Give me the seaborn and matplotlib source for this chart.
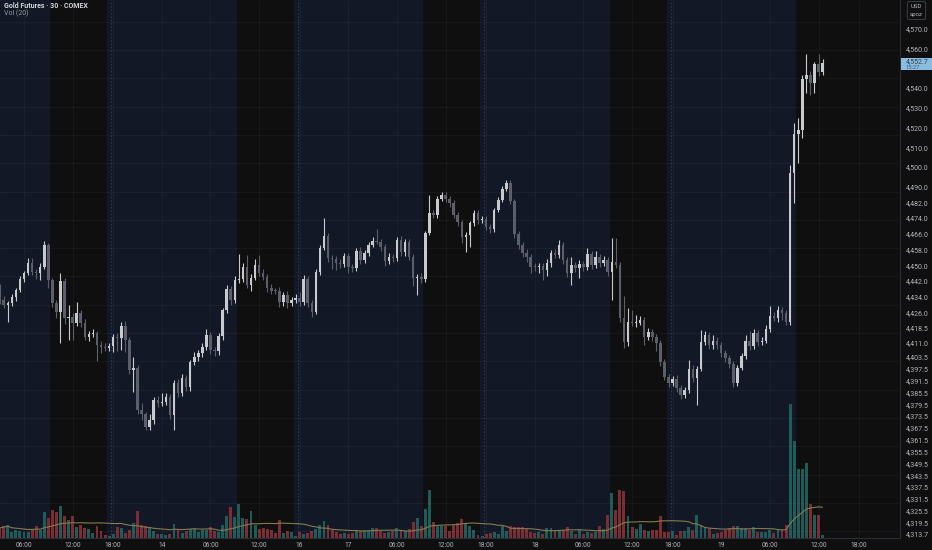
import numpy as np
import pandas as pd
import seaborn as sns
import matplotlib.pyplot as plt
import matplotlib.transforms as mtransforms
from matplotlib.patches import Rectangle


# 30 min closes (USD/oz), open of each bar = previous close
first_open = 4439.0
close = [
    4432.4, 4429.9, 4430.9, 4433.9, 4437.5, 4443.1, 4446.1, 4451.2, 4446.6, 4446.1,
    4449.2, 4460.3, 4442.6, 4430.9, 4426.3, 4442.0, 4423.3, 4423.8, 4420.7, 4425.8,
    4420.7, 4413.6, 4415.1, 4415.6, 4409.6, 4408.5, 4408.3, 4409.0, 4413.6, 4413.1,
    4419.2, 4412.1, 4396.9, 4397.9, 4376.6, 4374.5, 4367.9, 4371.5, 4381.6, 4380.1,
    4380.6, 4383.2, 4374.0, 4390.3, 4385.2, 4392.8, 4388.2, 4400.9, 4403.5, 4405.5,
    4408.5, 4414.6, 4407.0, 4406.5, 4414.1, 4427.3, 4438.0, 4432.4, 4442.6, 4443.1,
    4449.2, 4440.0, 4443.6, 4450.2, 4446.1, 4444.1, 4438.5, 4437.0, 4436.8, 4431.4,
    4435.0, 4430.9, 4432.4, 4433.4, 4431.4, 4443.1, 4430.9, 4426.3, 4446.6, 4458.8,
    4464.9, 4453.7, 4453.2, 4451.2, 4450.7, 4454.7, 4449.2, 4448.6, 4457.3, 4452.7,
    4456.3, 4460.3, 4462.4, 4462.1, 4459.3, 4452.2, 4454.2, 4453.7, 4462.9, 4456.8,
    4461.8, 4454.2, 4443.6, 4443.9, 4443.3, 4466.5, 4476.6, 4475.6, 4483.7, 4485.7,
    4483.7, 4481.7, 4475.6, 4472.1, 4464.4, 4465.4, 4471.6, 4476.6, 4473.1, 4473.6,
    4469.6, 4468.5, 4478.2, 4483.2, 4488.8, 4491.8, 4482.7, 4466.0, 4460.3, 4456.3,
    4454.2, 4449.2, 4449.0, 4449.7, 4447.7, 4451.2, 4456.3, 4455.3, 4460.3, 4452.7,
    4446.1, 4450.2, 4448.6, 4450.7, 4449.2, 4455.8, 4450.2, 4454.2, 4451.2, 4452.7,
    4446.6, 4451.7, 4450.2, 4423.3, 4411.1, 4421.3, 4420.7, 4421.0, 4422.3, 4413.6,
    4416.2, 4413.6, 4410.6, 4400.9, 4393.3, 4390.3, 4392.3, 4387.7, 4384.2, 4386.7,
    4397.4, 4392.8, 4397.6, 4411.1, 4414.6, 4409.6, 4411.6, 4409.6, 4405.5, 4403.0,
    4399.9, 4390.3, 4397.9, 4404.0, 4411.6, 4409.0, 4415.6, 4411.1, 4411.6, 4417.7,
    4424.3, 4423.3, 4427.3, 4425.8, 4421.3, 4496.9, 4516.7, 4518.7, 4544.6, 4546.6,
    4542.6, 4552.2, 4548.2, 4552.7,
]

# wick lengths above / below the body (points)
up_wick = [
    1.5, 2, 1, 1.5, 1, 1.5, 1, 2.5, 2.5, 1.5,
    2, 2, 1, 1, 1.5, 4, 1.5, 6, 2, 5.5,
    1.5, 2, 1.5, 2, 1, 2, 2, 1.5, 1.5, 2,
    2, 2.5, 1.5, 5.5, 1.5, 3.5, 1, 3, 1.5, 2,
    4.5, 2, 1.5, 1.5, 2, 2, 1.5, 1, 2.5, 1.5,
    2, 3, 1.5, 1.5, 1.5, 1, 2, 1.5, 2, 12.5,
    2, 6, 2, 3, 5, 2, 1.5, 2, 1.5, 2,
    1.5, 2, 1.5, 2, 3, 2, 1.5, 1.5, 1.5, 1.5,
    9, 1.5, 1.5, 1.5, 2, 1.5, 1.5, 1.5, 1.5, 2,
    1.5, 1.5, 2, 6, 1.5, 1.5, 2, 1.5, 1.5, 2,
    1.5, 1.5, 1.5, 1.5, 2, 1, 9, 1.5, 1.5, 1.5,
    1.5, 1.5, 1.5, 1.5, 1, 1.5, 1, 1.5, 1.5, 1.5,
    1.5, 1.5, 1, 1.5, 1.5, 1.5, 1.5, 1, 1.5, 1.5,
    2, 1.5, 2, 1.5, 1.5, 2, 1.5, 2, 2.5, 1.5,
    1.5, 4, 1.5, 2, 1.5, 3, 1.5, 3, 1.5, 2,
    1.5, 12, 12, 1.5, 11, 7, 6, 4, 2, 1.5,
    2, 1.5, 1.5, 1.5, 1.5, 1.5, 1.5, 2, 1.5, 1.5,
    4.5, 2, 1.5, 6, 2, 1.5, 3, 2, 1.5, 1.5,
    1.5, 1.5, 1.5, 1.5, 3, 5, 2, 1.5, 2, 2,
    5, 2, 2, 1.5, 1.5, 4, 5.5, 6, 2, 10.5,
    2, 1, 5, 2,
]
dn_wick = [
    2, 1.5, 8.5, 1.5, 2, 1, 1.5, 1, 1.5, 3,
    3.5, 1, 4, 2, 3, 15.5, 3, 11, 8.5, 1.5,
    2, 1.5, 2, 1.5, 8, 3, 2, 2, 3, 6.5,
    6, 6, 2, 11, 2, 3, 1.5, 1.5, 2, 2,
    1.5, 1.5, 2, 7.5, 2, 1.5, 2, 2, 1.5, 2,
    2, 1.5, 2, 2.5, 2, 2, 1.5, 2.5, 1.5, 1.5,
    1.5, 1.5, 3, 1, 1.5, 1.5, 2, 1.5, 1.5, 2.5,
    2, 2.5, 1.5, 1.5, 2, 1.5, 2, 2.5, 1, 1.5,
    1, 2, 5, 3.5, 2, 1.5, 3, 2, 1.5, 2,
    1.5, 1.5, 1, 1.5, 2, 2.5, 1.5, 2, 1.5, 2,
    2, 1.5, 4, 8.5, 2, 1.5, 1, 1.5, 1.5, 1,
    1.5, 2, 1.5, 2, 3, 7.5, 6, 1.5, 2, 1.5,
    1.5, 2, 1.5, 1, 1, 1, 1.5, 2, 2, 2,
    2.5, 3, 2, 3, 5, 3, 2, 1.5, 1.5, 2,
    2, 6, 2, 5, 2, 1.5, 2, 1.5, 2, 1.5,
    2, 14, 1.5, 2, 3, 2, 1.5, 2, 1.5, 4,
    1.5, 2, 4, 2, 1.5, 2, 1.5, 2, 2, 1.5,
    1.5, 2, 13.5, 1, 1.5, 2, 2, 2, 2, 2,
    2, 2, 1.5, 1, 1.5, 2, 1.5, 2, 1.5, 1,
    1.5, 1.5, 2, 3.5, 1.5, 1.5, 15, 14.5, 4, 7,
    6, 5, 2, 1.5,
]

# volume, hundreds of contracts
volume = [
    10, 12, 13, 6, 8, 7, 6, 6, 9, 12,
    8, 26, 20, 28, 26, 32, 22, 18, 22, 11,
    13, 10, 9, 5, 12, 7, 3, 2, 4, 11,
    10, 5, 8, 15, 27, 13, 12, 10, 7, 4,
    4, 3, 4, 14, 8, 5, 7, 9, 9, 6,
    8, 8, 11, 7, 6, 13, 22, 31, 21, 34,
    20, 19, 27, 13, 9, 10, 9, 8, 5, 18,
    5, 7, 6, 2, 6, 4, 5, 7, 9, 13,
    17, 13, 8, 6, 4, 5, 4, 5, 7, 7,
    7, 7, 10, 10, 7, 5, 6, 7, 10, 7,
    7, 9, 16, 20, 12, 29, 48, 16, 12, 12,
    12, 7, 13, 15, 19, 15, 12, 8, 3, 2,
    4, 5, 6, 4, 12, 7, 12, 11, 11, 11,
    9, 6, 5, 6, 4, 10, 10, 8, 7, 8,
    11, 7, 4, 8, 4, 6, 5, 6, 12, 9,
    23, 45, 28, 48, 47, 22, 11, 9, 14, 8,
    7, 8, 8, 22, 6, 6, 7, 3, 7, 7,
    11, 8, 23, 13, 11, 9, 4, 5, 6, 8,
    10, 12, 12, 10, 10, 8, 11, 6, 6, 6,
    8, 5, 8, 8, 13, 134, 97, 69, 69, 75,
    34, 23, 23, 3,
]

price_ticks = [4570.0, 4560.0, 4540.0, 4530.0, 4520.0, 4510.0, 4500.0, 4490.0,
               4482.0, 4474.0, 4466.0, 4458.0, 4450.0, 4442.0, 4434.0, 4426.0,
               4418.5, 4411.0, 4403.5, 4397.5, 4391.5, 4385.5, 4379.5, 4373.5,
               4367.5, 4361.5, 4355.5, 4349.5, 4343.5, 4337.5, 4331.5, 4325.5,
               4319.5, 4313.7]
time_pos = [6, 18, 28, 40, 52, 64, 74, 86, 98, 110, 120, 132, 144, 156, 166, 178, 190, 202, 212]
time_labels = ['06:00', '12:00', '18:00', '14', '06:00', '12:00', '16', '17', '06:00',
               '12:00', '18:00', '18', '06:00', '12:00', '18:00', '19', '06:00', '12:00', '18:00']
rth_start = [12.5, 58.5, 104.5, 150.5, 196.5]
rth_end = [26.5, 72.5, 118.5, 164.5, 240]
session_breaks = [27.5, 73.5, 119.5, 165.5]

df = pd.DataFrame({'close': close, 'up': up_wick, 'dn': dn_wick, 'vol': volume})
df['open'] = [first_open] + close[:-1]
df['top'] = df[['open', 'close']].max(axis=1)
df['bot'] = df[['open', 'close']].min(axis=1)
df['high'] = df['top'] + df['up']
df['low'] = df['bot'] - df['dn']
df['rising'] = df['close'] >= df['open']
df['ma'] = df['vol'].rolling(20, min_periods=1).mean()
df['bar'] = np.arange(len(df))

sns.set_theme(style='dark')
plt.rcParams['font.family'] = ['Roboto', 'DejaVu Sans']

BLUE = '#121826'
BLACK = '#0f0f0f'
TXT = '#b2b5be'

fig = plt.figure(figsize=(9.32, 5.5), dpi=100, facecolor=BLACK)
axv = fig.add_axes([0, 12 / 550, 900 / 932, 538 / 550])
axv.set_facecolor(BLUE)
ax = axv.twinx()

# session shading
for a, b in zip(rth_start, rth_end):
    axv.axvspan(a, b, color=BLACK, lw=0, zorder=0.6)
for s in session_breaks:
    axv.axvline(s, color='#2b3b63', lw=0.7, ls=(0, (1.5, 2)), zorder=0.8)
for t in time_pos:
    axv.axvline(t, color='white', alpha=0.035, lw=0.7, zorder=0.7)

# volume + MA
vcol = np.where(df['rising'], '#1f5c59', '#7a2e33')
axv.bar(df['bar'], df['vol'], width=0.72, color=vcol, linewidth=0, zorder=2)
sns.lineplot(data=df, x='bar', y='ma', ax=axv, color='#857a4e', lw=0.8, zorder=3)
axv.set_ylim(0, 538)
axv.set_yticks([])
axv.set_xlabel('')
axv.set_ylabel('')

# candles
ccol = np.where(df['rising'], '#c9cacd', '#5c5f69')
ax.vlines(df['bar'], df['low'], df['high'], colors=ccol, lw=0.8, zorder=3)
ax.bar(df['bar'], (df['top'] - df['bot']).clip(lower=0.45), bottom=df['bot'],
       width=0.62, color=ccol, linewidth=0, zorder=4)
for g in np.arange(4573.7, 4305, -14.37):
    ax.axhline(g, color='white', alpha=0.035, lw=0.7, zorder=0.5)

ax.set_ylim(4311.6, 4584.72)
axv.set_xlim(0.08, 222.1)
ax.set_yticks(price_ticks)
ax.set_yticklabels([f'{v:,.1f}' for v in price_ticks])
ax.tick_params(axis='y', length=0, pad=4, labelsize=5, labelcolor=TXT)
axv.set_xticks(time_pos)
axv.set_xticklabels(time_labels)
axv.tick_params(axis='x', length=0, pad=3, labelsize=4.8, labelcolor=TXT)
ax.grid(False)
axv.grid(False)

for a in (ax, axv):
    for sp in a.spines.values():
        sp.set_visible(False)
ax.spines['right'].set_visible(True)
ax.spines['right'].set_color('#2a2e39')
ax.spines['right'].set_linewidth(0.8)
axv.spines['bottom'].set_visible(True)
axv.spines['bottom'].set_color('#2a2e39')
axv.spines['bottom'].set_linewidth(0.8)

# last price tag
last = close[-1]
trans = mtransforms.blended_transform_factory(ax.transAxes, ax.transData)
ax.add_patch(Rectangle((1.0015, last - 3.7), 31 / 900, 6.2, transform=trans,
                       facecolor='#8bbde0', edgecolor='none', clip_on=False, zorder=10))
ax.text(1.006, last + 0.9, f'{last:,.1f}', transform=trans, fontsize=5,
        color='#2c3e55', va='center', ha='left', clip_on=False, zorder=11)
ax.text(1.006, last - 2.2, '15:27', transform=trans, fontsize=4.2,
        color='#3d5675', va='center', ha='left', clip_on=False, zorder=11)

# header texts
fig.text(4 / 932, 1 - 6 / 550, 'Gold Futures · 30 · COMEX', fontsize=5, fontweight='bold',
         color='#d1d4dc', va='center', ha='left')
fig.text(4 / 932, 1 - 13.5 / 550, 'Vol (20)', fontsize=5, color='#9598a1',
         va='center', ha='left')
fig.text(916.5 / 932, 1 - 10.5 / 550, 'USD\napoz', fontsize=4.3, color=TXT, ha='center',
         va='center', linespacing=1.7,
         bbox=dict(boxstyle='round,pad=0.45,rounding_size=0.35', fc=BLACK, ec='#434651', lw=0.6))

fig.savefig('out.png', dpi=100, facecolor=BLACK)
